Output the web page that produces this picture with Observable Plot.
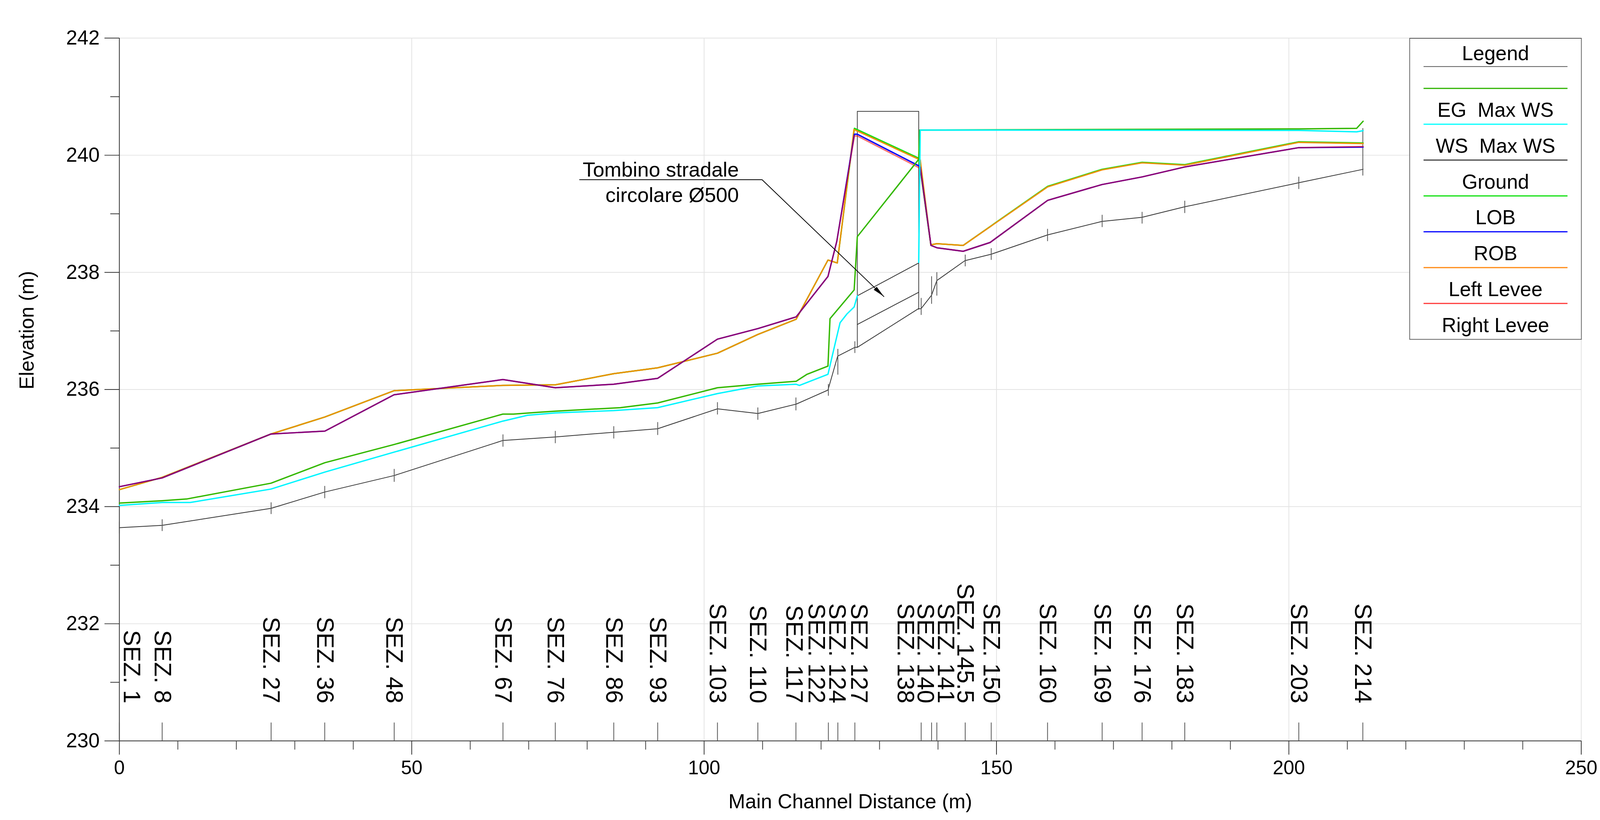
<!DOCTYPE html>
<html>
<head>
<meta charset="utf-8">
<script src="https://cdn.jsdelivr.net/npm/d3@7"></script>
<script src="https://cdn.jsdelivr.net/npm/@observablehq/plot@0.6"></script>
<style>
  html, body { margin: 0; padding: 0; background: #fff; overflow: hidden; }
  #wrap { position: absolute; left: 0; top: 0; width: 4135px; height: 2099px; overflow: hidden; background: #fff; transform-origin: 0 0; }
</style>
</head>
<body>
<div id="wrap"></div>
<script>
// ---------------- DATA ----------------
// Cross sections (name, station of the section, station where its label is written)
const sectionNames = ["SEZ. 1","SEZ. 8","SEZ. 27","SEZ. 36","SEZ. 48","SEZ. 67","SEZ. 76","SEZ. 86","SEZ. 93",
  "SEZ. 103","SEZ. 110","SEZ. 117","SEZ. 122","SEZ. 124","SEZ. 127","SEZ. 138","SEZ. 140","SEZ. 141",
  "SEZ. 145.5","SEZ. 150","SEZ. 160","SEZ. 169","SEZ. 176","SEZ. 183","SEZ. 203","SEZ. 214"];
const sectionStation = [0, 7.32, 25.95, 35.12, 47.0, 65.6, 74.55, 84.55, 92.06, 102.28, 109.19, 115.7,
  121.25, 122.87, 125.78, 137.12, 138.9, 139.8, 144.65, 149.1, 158.73, 168.07, 174.9, 182.2, 201.7, 212.65];
const sectionLabelStation = [2.1, 7.32, 25.95, 35.12, 47.0, 65.6, 74.55, 84.55, 92.06, 102.3, 109.19, 115.35,
  119.2, 122.7, 126.45, 134.4, 137.8, 141.3, 144.65, 149.1, 158.73, 168.07, 174.9, 182.2, 201.7, 212.65];
// Ground marks at each section (elevation span of the small vertical mark on the ground line)
const groundMarkLow  = [233.54, 233.58, 233.87, 234.14, 234.42, 235.02, 235.08, 235.16, 235.22, 235.57, 235.48, 235.64,
  235.89, 236.25, 236.62, 237.27, 237.46, 237.60, 238.10, 238.21, 238.53, 238.77, 238.83, 239.01, 239.42, 239.65];
const groundMarkHigh = [233.74, 233.78, 234.07, 234.35, 234.64, 235.23, 235.29, 235.37, 235.44, 235.78, 235.69, 235.86,
  236.09, 236.69, 236.82, 237.56, 237.93, 238.00, 238.30, 238.41, 238.74, 238.98, 239.03, 239.22, 239.63, 240.46];

// Ground profile
const groundStation = [0, 7.32, 25.93, 35.15, 46.97, 65.6, 74.56, 84.55, 92.05, 102.28, 109.19, 115.74, 121.18,
  122.84, 125.79, 126.2, 136.65, 137.1, 138.9, 139.8, 144.6, 149.1, 158.75, 168.05, 174.9, 182.2, 201.7, 212.7];
const groundElev = [233.64, 233.68, 233.97, 234.25, 234.53, 235.13, 235.19, 235.27, 235.33, 235.67, 235.59, 235.75, 235.99,
  236.57, 236.72, 236.72, 237.38, 237.38, 237.61, 237.86, 238.20, 238.31, 238.64, 238.87, 238.94, 239.12, 239.53, 239.76];

// EG Max WS
const egStation = [0, 7.32, 11.5, 25.93, 35.15, 46.97, 65.58, 67.4, 71.5, 74.56, 85.7, 92.05, 102.28, 109.19, 115.74,
  117.6, 121.18, 121.53, 125.66, 126.2, 136.7, 136.85, 201.7, 211.6, 212.7];
const egElev = [234.06, 234.10, 234.13, 234.40, 234.75, 235.06, 235.58, 235.58, 235.61, 235.63, 235.69, 235.77, 236.03,
  236.09, 236.14, 236.26, 236.40, 237.21, 237.70, 238.61, 239.93, 240.43, 240.45, 240.46, 240.58];

// WS Max WS (null = no water surface drawn inside the culvert)
const wsStation = [0, 7.32, 12.1, 25.93, 35.15, 46.97, 65.58, 69.8, 74.56, 84.55, 92.05, 102.28, 109.19, 115.74, 116.3,
  121.18, 122.35, 123.25, 124.43, 125.66, 126.2, 131.0, 136.7, 136.96, 201.7, 211.6, 212.7];
const wsElev = [234.02, 234.07, 234.07, 234.30, 234.59, 234.93, 235.46, 235.56, 235.60, 235.64, 235.69, 235.93, 236.06,
  236.09, 236.07, 236.26, 236.76, 237.14, 237.29, 237.41, 237.60, null, 238.17, 240.43, 240.425, 240.40, 240.42];

// LOB and Left Levee
const lobStation = [0, 7.32, 25.93, 35.15, 46.97, 65.58, 74.56, 84.55, 92.05, 102.28, 109.19, 115.74, 121.18, 122.69,
  125.7, 126.2, 136.7, 136.95, 138.8, 139.8, 144.3, 148.9, 158.75, 168.05, 174.9, 182.2, 201.7, 212.7];
const lobElev = [234.34, 234.49, 235.24, 235.29, 235.91, 236.17, 236.03, 236.09, 236.19, 236.86, 237.04, 237.24, 237.93,
  238.53, 240.36, 240.36, 239.82, 239.80, 238.46, 238.42, 238.36, 238.51, 239.23, 239.50, 239.63, 239.80, 240.13, 240.14];
const leftLeveeElev = [234.34, 234.49, 235.24, 235.29, 235.91, 236.17, 236.03, 236.09, 236.19, 236.86, 237.04, 237.24, 237.93,
  238.53, 240.33, 240.33, 239.79, 239.79, 238.46, 238.42, 238.36, 238.51, 239.23, 239.50, 239.63, 239.80, 240.13, 240.15];

// ROB and Right Levee
const robStation = [0, 7.32, 25.93, 35.15, 46.97, 65.58, 74.56, 84.55, 92.05, 102.28, 109.19, 115.74, 121.18, 122.77,
  125.63, 136.96, 138.77, 139.8, 144.3, 158.75, 168.05, 174.9, 182.2, 201.7, 212.7];
const robElev = [234.29, 234.50, 235.24, 235.53, 235.98, 236.07, 236.08, 236.27, 236.37, 236.62, 236.94, 237.20, 238.21,
  238.16, 240.44, 239.92, 238.47, 238.49, 238.46, 239.46, 239.75, 239.87, 239.83, 240.22, 240.20];
const rightLeveeStation = [0, 7.32, 25.93, 35.15, 46.97, 65.58, 74.56, 84.55, 92.05, 102.28, 109.19, 115.74, 121.18, 122.77,
  125.7, 136.7, 138.77, 139.8, 144.3, 158.75, 168.05, 174.9, 182.2, 201.7, 212.7];
const rightLeveeElev = [234.29, 234.50, 235.24, 235.53, 235.98, 236.07, 236.08, 236.27, 236.37, 236.62, 236.94, 237.20, 238.21,
  238.16, 240.46, 239.95, 238.47, 238.49, 238.46, 239.47, 239.76, 239.88, 239.84, 240.23, 240.21];

// Culvert (road crossing): deck outline, pipe crown and pipe invert
const deckStation = [126.2, 126.2, 136.7, 136.7];
const deckElev = [236.72, 240.75, 240.75, 237.37];
const pipeStation = [126.2, 136.7];
const pipeCrown = [237.60, 238.16];
const pipeInvert = [237.11, 237.66];

// Callout
const calloutLines = ["Tombino stradale", "circolare Ø500"];
const calloutTextStation = 105.94;
const calloutTextElev = [239.633, 239.205];
const calloutStation = [78.71, 109.91, 130.74];
const calloutElev = [239.582, 239.582, 237.587];

// Axes
const xMajorTicks = [0, 50, 100, 150, 200, 250];
const xMinorTicks = [10, 20, 30, 40, 60, 70, 80, 90, 110, 120, 130, 140, 160, 170, 180, 190, 210, 220, 230, 240];
const yMajorTicks = [230, 232, 234, 236, 238, 240, 242];
const yMinorTicks = [231, 233, 235, 237, 239, 241];
const xLabel = "Main Channel Distance (m)";
const yLabel = "Elevation (m)";

// Legend (text entries and the line samples drawn between them)
const legendTitle = "Legend";
const legendLabels = ["EG  Max WS", "WS  Max WS", "Ground", "LOB", "ROB", "Left Levee", "Right Levee"];
const legendLineColors = ["#2fb300", "#00ffff", "#444444", "#11e011", "#0000ff", "#ff8a14", "#ff3b3b"];

// ---------------- CHART ----------------
const FONT = "'Liberation Sans', Arial, sans-serif";
const pts = (xs, ys) => xs.map((x, i) => ({x, y: ys[i]}));
const sections = sectionNames.map((name, i) => ({
  name, station: sectionStation[i], labelX: sectionLabelStation[i], lo: groundMarkLow[i], hi: groundMarkHigh[i]
}));
const intFmt = d => String(d);

const chart = Plot.plot({
  width: 4135,
  height: 2099,
  marginLeft: 308,
  marginRight: 49,
  marginTop: 98,
  marginBottom: 185,
  x: {domain: [0, 250], label: null},
  y: {domain: [230, 242], label: null},
  style: {fontFamily: FONT, fontSize: "50px", background: "#fff", color: "#000", maxWidth: "none"},
  marks: [
    Plot.gridX(xMajorTicks, {stroke: "#e3e3e3", strokeOpacity: 1, strokeWidth: 2}),
    Plot.gridY(yMajorTicks, {stroke: "#e3e3e3", strokeOpacity: 1, strokeWidth: 2}),
    Plot.ruleX([0], {stroke: "#333", strokeWidth: 2}),
    Plot.ruleY([230], {stroke: "#333", strokeWidth: 2}),
    Plot.axisX(xMinorTicks, {tickSize: 23, tickFormat: () => "", stroke: "#444", strokeWidth: 2, label: null}),
    Plot.axisX(xMajorTicks, {tickSize: 36, tickPadding: 14.5, tickFormat: intFmt, fontSize: 50, stroke: "#333", strokeWidth: 2, label: null}),
    Plot.axisY(yMinorTicks, {tickSize: 23, tickFormat: () => "", stroke: "#333", strokeWidth: 2, label: null}),
    Plot.axisY(yMajorTicks, {tickSize: 38, tickPadding: 13, tickFormat: intFmt, fontSize: 52, stroke: "#333", strokeWidth: 2, label: null}),
    Plot.text([xLabel], {frameAnchor: "bottom", dy: 174, fontSize: 52, text: d => d}),
    Plot.text([yLabel], {frameAnchor: "left", rotate: -90, dx: -238, fontSize: 52, text: d => d}),

    // section marks on the bottom axis and their labels
    Plot.ruleX(sections, {x: "station", y1: 230, y2: 230.31, stroke: "#555", strokeWidth: 2}),
    Plot.text(sections, {x: "labelX", y: () => 230.64, text: "name", rotate: 90, textAnchor: "end", fontSize: 62}),

    // culvert
    Plot.line(pts(deckStation, deckElev), {x: "x", y: "y", stroke: "#444", strokeWidth: 2}),
    Plot.line(pts(pipeStation, pipeCrown), {x: "x", y: "y", stroke: "#333", strokeWidth: 2}),
    Plot.line(pts(pipeStation, pipeInvert), {x: "x", y: "y", stroke: "#333", strokeWidth: 2}),

    // ground with section marks
    Plot.line(pts(groundStation, groundElev), {x: "x", y: "y", stroke: "#333", strokeWidth: 2}),
    Plot.ruleX(sections, {x: "station", y1: "lo", y2: "hi", stroke: "#555", strokeWidth: 2}),

    // banks / levees
    Plot.line(pts(rightLeveeStation, rightLeveeElev), {x: "x", y: "y", stroke: "#11e011", strokeWidth: 3.5}),
    Plot.line(pts(robStation, robElev), {x: "x", y: "y", stroke: "#ee9000", strokeWidth: 3.5}),
    Plot.line(pts(lobStation, lobElev), {x: "x", y: "y", stroke: "#0000ff", strokeWidth: 3.5}),
    Plot.line(pts(lobStation, leftLeveeElev), {x: "x", y: "y", stroke: "#ff0000", strokeOpacity: 0.55, strokeWidth: 3.5}),

    // energy grade and water surface
    Plot.line(pts(egStation, egElev), {x: "x", y: "y", stroke: "#33b800", strokeWidth: 3.5}),
    Plot.line(pts(wsStation, wsElev), {x: "x", y: "y", stroke: "#00f5ff", strokeWidth: 3.5}),

    // callout
    Plot.text(calloutLines, {x: () => calloutTextStation, y: (d, i) => calloutTextElev[i], text: d => d,
      textAnchor: "end", lineAnchor: "bottom", fontSize: 53}),
    Plot.line(pts(calloutStation, calloutElev), {x: "x", y: "y", stroke: "#000", strokeWidth: 2, className: "callout"})
  ]
});

// filled arrow head for the callout leader
const svgSel = d3.select(chart);
const defs = svgSel.append("defs");
defs.append("marker")
  .attr("id", "callout-head")
  .attr("viewBox", "0 -7 32 14")
  .attr("refX", 31).attr("refY", 0)
  .attr("markerWidth", 32).attr("markerHeight", 14)
  .attr("markerUnits", "userSpaceOnUse")
  .attr("orient", "auto")
  .append("path").attr("d", "M0,-5.5L31,0L0,5.5Z").attr("fill", "#000");
svgSel.selectAll(".callout path").attr("marker-end", "url(#callout-head)");

const wrap = document.getElementById("wrap");
wrap.appendChild(chart);

// legend box (top right, over the plot)
const lg = d3.create("svg")
  .attr("width", 446).attr("height", 780)
  .style("position", "absolute").style("left", "3642px").style("top", "98px")
  .style("font-family", FONT).style("font-size", "52px");
lg.append("rect").attr("x", 1).attr("y", 1).attr("width", 444).attr("height", 778)
  .attr("fill", "#fff").attr("stroke", "#555").attr("stroke-width", 2);
lg.append("text").attr("x", 223).attr("y", 57).attr("text-anchor", "middle").text(legendTitle);
lg.append("line").attr("x1", 37).attr("x2", 409).attr("y1", 74).attr("y2", 74)
  .attr("stroke", "#444").attr("stroke-width", 2);
legendLineColors.forEach((c, i) => {
  const y = 130.3 + i * 92.65;
  lg.append("line").attr("x1", 37).attr("x2", 409).attr("y1", y).attr("y2", y)
    .attr("stroke", c).attr("stroke-width", 3);
});
legendLabels.forEach((t, i) => {
  lg.append("text").attr("x", 223).attr("y", 204 + i * 92.65).attr("text-anchor", "middle")
    .style("white-space", "pre").text(t);
});
wrap.appendChild(lg.node());

// fit the 4135-wide drawing into the visible viewport width (uniform scale)
function fit() {
  const s = Math.min(1, window.innerWidth / 4135);
  wrap.style.transform = `scale(${s})`;
}
fit();
window.addEventListener("resize", fit);
</script>
</body>
</html>
